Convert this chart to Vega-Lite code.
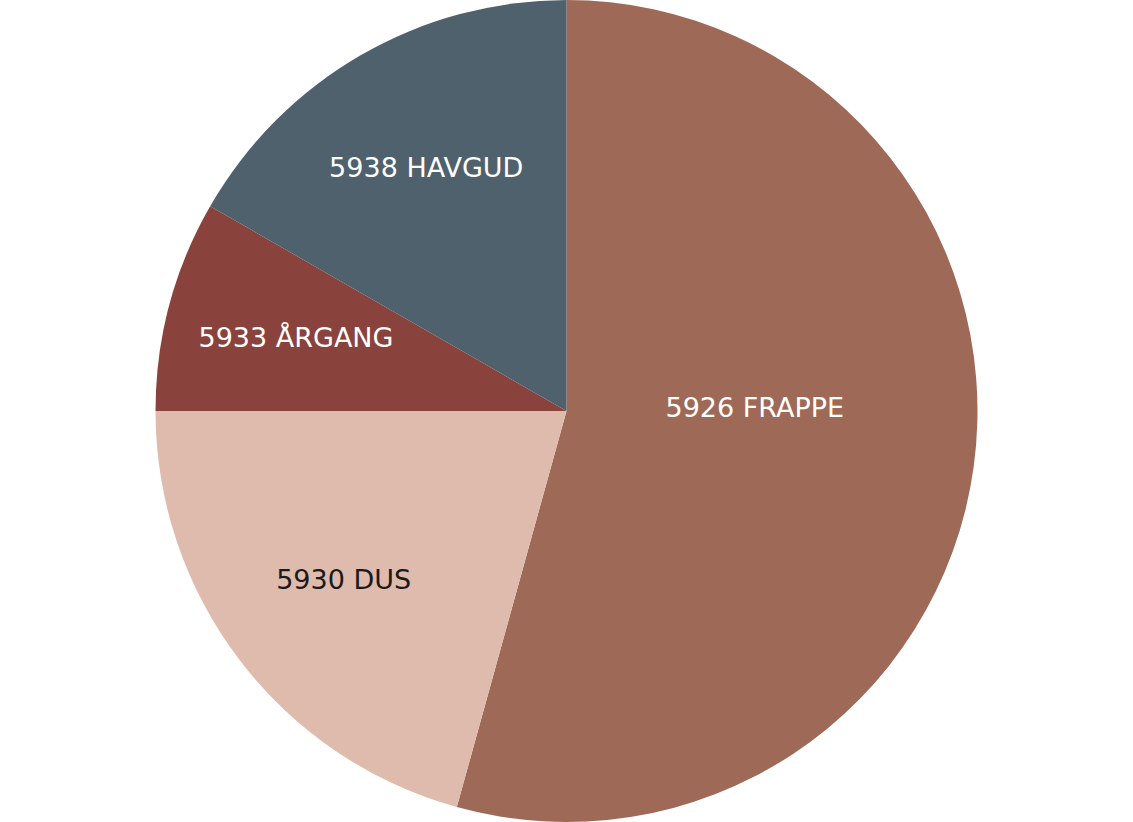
{
  "$schema": "https://vega.github.io/schema/vega-lite/v6.json",
  "autosize": {"type": "fit", "contains": "padding"},
  "width": 1133,
  "height": 822,
  "padding": 0,
  "background": "white",
  "view": {"stroke": null},
  "data": {
    "values": [
      {"name": "5926 FRAPPE", "share": 54.3},
      {"name": "5930 DUS", "share": 20.7},
      {"name": "5933 ÅRGANG", "share": 8.3},
      {"name": "5938 HAVGUD", "share": 16.7}
    ]
  },
  "encoding": {
    "theta": {"field": "share", "type": "quantitative", "stack": true}
  },
  "layer": [
    {
      "mark": {"type": "arc"},
      "encoding": {
        "color": {
          "field": "name",
          "type": "nominal",
          "sort": ["5926 FRAPPE", "5930 DUS", "5933 ÅRGANG", "5938 HAVGUD"],
          "scale": {
            "domain": ["5926 FRAPPE", "5930 DUS", "5933 ÅRGANG", "5938 HAVGUD"],
            "range": ["#9E6A57", "#DFBBAD", "#8A423C", "#4E616C"]
          },
          "legend": null
        }
      }
    },
    {
      "mark": {"type": "text", "radius": 280, "font": "DejaVu Sans", "fontSize": 27, "fontWeight": "normal", "align": "center", "baseline": "middle"},
      "encoding": {
        "text": {"condition": {"test": "datum.name !== '5926 FRAPPE'", "field": "name"}, "value": ""},
        "fill": {"condition": {"test": "datum.name === '5930 DUS'", "value": "#1a1a1a"}, "value": "#ffffff"},
        "detail": {"field": "name", "type": "nominal", "sort": ["5926 FRAPPE", "5930 DUS", "5933 ÅRGANG", "5938 HAVGUD"]}
      }
    },
    {
      "mark": {"type": "text", "radius": 190, "dy": -28, "font": "DejaVu Sans", "fontSize": 27, "align": "center", "baseline": "middle", "fill": "#ffffff"},
      "encoding": {
        "text": {"condition": {"test": "datum.name === '5926 FRAPPE'", "field": "name"}, "value": ""},
        "detail": {"field": "name", "type": "nominal", "sort": ["5926 FRAPPE", "5930 DUS", "5933 ÅRGANG", "5938 HAVGUD"]}
      }
    }
  ]
}
